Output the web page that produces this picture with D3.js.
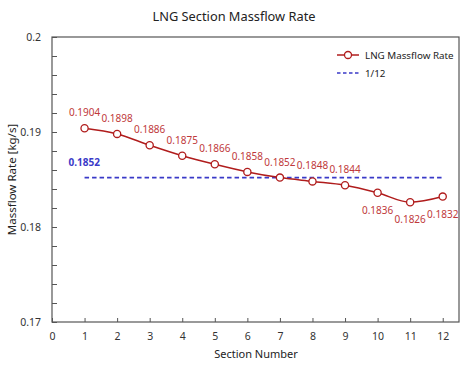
<!DOCTYPE html>
<html>
<head>
<meta charset="utf-8">
<script src="https://cdn.jsdelivr.net/npm/d3@7"></script>
<style>
  body { margin: 0; background: #fff; }
  text { font-family: "Noto Sans", "Open Sans", sans-serif; }
</style>
</head>
<body>
<div id="chart"></div>
<script>
var sections = [1, 2, 3, 4, 5, 6, 7, 8, 9, 10, 11, 12];
var massflow = [0.1904, 0.1898, 0.1886, 0.1875, 0.1866, 0.1858, 0.1852, 0.1848, 0.1844, 0.1836, 0.1826, 0.1832];
var average = 0.1852;
var xTicks = [0, 1, 2, 3, 4, 5, 6, 7, 8, 9, 10, 11, 12];
var yTicks = [0.17, 0.18, 0.19, 0.2];

var width = 463, height = 365;
var margin = {top: 37, right: 4, bottom: 43, left: 52};

var svg = d3.select("#chart").append("svg")
    .attr("width", width)
    .attr("height", height);

var x = d3.scaleLinear().domain([0, 12.5]).range([margin.left, width - margin.right]);
var y = d3.scaleLinear().domain([0.17, 0.2]).range([height - margin.bottom, margin.top]);

var red = "#b01c1c";
var labelRed = "#c0393b";
var blue = "#3a3ac8";

// frame
svg.append("rect")
    .attr("x", x(0))
    .attr("y", y(0.2))
    .attr("width", x(12.5) - x(0))
    .attr("height", y(0.17) - y(0.2))
    .attr("fill", "none")
    .attr("stroke", "#555")
    .attr("stroke-width", 1.2);

// y axis, minor ticks every 0.002, inside
var yAxis = d3.axisLeft(y)
    .tickValues(d3.range(0.17, 0.2001, 0.002))
    .tickSize(-5)
    .tickFormat(function(d) {
        var r = Math.round(d * 1000) / 1000;
        return yTicks.some(function(t) { return Math.abs(t - r) < 1e-9; }) ? String(+r.toFixed(2)) : "";
    });
var gy = svg.append("g")
    .attr("transform", "translate(" + x(0) + ",0)")
    .call(yAxis);
gy.select(".domain").remove();
gy.selectAll("line").attr("stroke", "#555");
gy.selectAll("text").attr("x", -11).attr("font-size", 10.5).attr("fill", "#333");

// x axis, ticks inside
var xAxis = d3.axisBottom(x)
    .tickValues(xTicks)
    .tickSize(-4)
    .tickFormat(d3.format("d"));
var gx = svg.append("g")
    .attr("transform", "translate(0," + y(0.17) + ")")
    .call(xAxis);
gx.select(".domain").remove();
gx.selectAll("line").attr("stroke", "#555");
gx.selectAll("text").attr("y", 11).attr("font-size", 10.5).attr("fill", "#333");

// title + axis titles
svg.append("text")
    .attr("x", 234).attr("y", 21)
    .attr("text-anchor", "middle")
    .attr("font-size", 12.8)
    .attr("fill", "#222")
    .text("LNG Section Massflow Rate");

svg.append("text")
    .attr("x", 256).attr("y", 358)
    .attr("text-anchor", "middle")
    .attr("font-size", 11)
    .attr("fill", "#222")
    .text("Section Number");

svg.append("text")
    .attr("transform", "translate(16," + ((y(0.17) + y(0.2)) / 2) + ") rotate(-90)")
    .attr("text-anchor", "middle")
    .attr("font-size", 11.5)
    .attr("fill", "#222")
    .text("Massflow Rate [kg/s]");

// 1/12 average line
svg.append("line")
    .attr("x1", x(1)).attr("x2", x(12))
    .attr("y1", y(average)).attr("y2", y(average))
    .attr("stroke", blue)
    .attr("stroke-width", 1.6)
    .attr("stroke-dasharray", "4.5,3");

svg.append("text")
    .attr("x", x(1) - 16).attr("y", y(average) - 12)
    .attr("font-size", 10)
    .attr("font-weight", "bold")
    .attr("fill", blue)
    .text(average);

// massflow line
var line = d3.line()
    .x(function(d, i) { return x(sections[i]); })
    .y(function(d) { return y(d); })
    .curve(d3.curveMonotoneX);

svg.append("path")
    .datum(massflow)
    .attr("d", line)
    .attr("fill", "none")
    .attr("stroke", red)
    .attr("stroke-width", 1.5);

svg.selectAll(".pt")
    .data(massflow)
    .enter().append("circle")
    .attr("class", "pt")
    .attr("cx", function(d, i) { return x(sections[i]); })
    .attr("cy", function(d) { return y(d); })
    .attr("r", 3.6)
    .attr("fill", "#fff")
    .attr("stroke", red)
    .attr("stroke-width", 1.3);

svg.selectAll(".lbl")
    .data(massflow)
    .enter().append("text")
    .attr("class", "lbl")
    .attr("x", function(d, i) { return x(sections[i]); })
    .attr("y", function(d, i) { return i >= 9 ? y(d) + 21 : y(d) - 12; })
    .attr("text-anchor", "middle")
    .attr("font-size", 10)
    .attr("fill", labelRed)
    .text(function(d) { return d; });

// legend
var lg = svg.append("g").attr("transform", "translate(337,55)");
lg.append("line").attr("x1", 0).attr("x2", 22).attr("y1", 0).attr("y2", 0)
    .attr("stroke", red).attr("stroke-width", 1.5);
lg.append("circle").attr("cx", 11).attr("cy", 0).attr("r", 3.5)
    .attr("fill", "#fff").attr("stroke", red).attr("stroke-width", 1.3);
lg.append("text").attr("x", 28).attr("y", 4).attr("font-size", 9.8).attr("fill", "#222")
    .text("LNG Massflow Rate");
lg.append("line").attr("x1", 0).attr("x2", 22).attr("y1", 18).attr("y2", 18)
    .attr("stroke", blue).attr("stroke-width", 1.6).attr("stroke-dasharray", "3.5,2.5");
lg.append("text").attr("x", 28).attr("y", 22).attr("font-size", 9.8).attr("fill", "#222")
    .text("1/12");
</script>
</body>
</html>
